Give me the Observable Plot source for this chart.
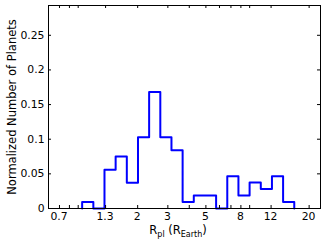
<!DOCTYPE html>
<html>
<head>
<meta charset="utf-8">
<script src="https://cdn.jsdelivr.net/npm/d3@7"></script>
<script src="https://cdn.jsdelivr.net/npm/@observablehq/plot@0.6"></script>
<style>
  html, body { margin: 0; padding: 0; background: #fff; }
  #chart svg { display: block; }
</style>
</head>
<body>
<div id="chart"></div>
<script>
// Histogram bin edges (planet radius, Earth radii) and normalized counts
const binEdges = [0.949, 1.103, 1.281, 1.488, 1.729, 2.009, 2.333, 2.711, 3.149, 3.658,
                  4.250, 4.937, 5.735, 6.663, 7.740, 8.992, 10.45, 12.14, 14.10, 16.38];
const binValues = [0.0093, 0, 0.056, 0.075, 0.037, 0.103, 0.168, 0.103, 0.084, 0.0093,
                   0.0187, 0.0187, 0, 0.0467, 0.0187, 0.0374, 0.028, 0.0467, 0.0093];
const xTickMarks = [0.7, 0.8, 0.9, 1.3, 2, 3, 4, 5, 6, 7, 8, 9, 12, 20];
const xTickLabels = [0.7, 1.3, 2, 3, 5, 8, 12, 20];
const yTicks = [0, 0.05, 0.1, 0.15, 0.2, 0.25];
const yLabel = "Normalized Number of Planets";

const W = 326, H = 244;
const mL = 48, mR = 6, mT = 5, mB = 36;
const plotW = W - mL - mR, plotH = H - mT - mB;
const tl = 3;

// step outline points
const steps = [{x: binEdges[0], y: 0}];
binEdges.forEach((e, i) => steps.push({x: e, y: i < binValues.length ? binValues[i] : 0}));

const fmt = d => String(d);

const chart = Plot.plot({
  width: W, height: H,
  marginLeft: mL, marginRight: mR, marginTop: mT, marginBottom: mB,
  style: {fontFamily: "DejaVu Sans", fontSize: "11px", color: "#000", background: "#fff"},
  x: {type: "log", domain: [0.604, 23.3], axis: null},
  y: {domain: [0, 0.293], axis: null},
  marks: [
    Plot.text(yTicks, {y: d => d, text: fmt, frameAnchor: "left", textAnchor: "end", dx: -4, fontSize: 10.8, fill: "#000"}),
    Plot.text([yLabel], {text: d => d, frameAnchor: "left", textAnchor: "middle", rotate: -90, dx: -36, fontSize: 11.5, fill: "#000"}),
    Plot.line(steps, {x: "x", y: "y", curve: "step-after", stroke: "#0000ff", strokeWidth: 2}),
    Plot.tickX(xTickMarks, {x: d => d, stroke: "#000", strokeWidth: 1, insetTop: plotH - tl}),
    Plot.tickX(xTickMarks, {x: d => d, stroke: "#000", strokeWidth: 1, insetBottom: plotH - tl}),
    Plot.tickY(yTicks, {y: d => d, stroke: "#000", strokeWidth: 1, insetRight: plotW - tl}),
    Plot.tickY(yTicks, {y: d => d, stroke: "#000", strokeWidth: 1, insetLeft: plotW - tl}),
    Plot.frame({stroke: "#000", strokeWidth: 1})
  ]
});

const svg = d3.select(chart);
const xs = chart.scale("x");

// x tick labels: one text element, one tspan per label, placed via Plot's x scale
const xt = svg.append("text")
  .attr("font-family", "DejaVu Sans")
  .attr("font-size", 10.8)
  .attr("fill", "#000")
  .attr("text-anchor", "middle");
xTickLabels.forEach(v => {
  xt.append("tspan")
    .attr("x", xs.apply(v).toFixed(1))
    .attr("y", H - mB + 12)
    .text(fmt(v));
});

// x axis label with subscripts
const t = svg.append("text")
  .attr("x", 178).attr("y", 234)
  .attr("text-anchor", "middle")
  .attr("font-family", "DejaVu Sans")
  .attr("font-size", 11.5)
  .attr("fill", "#000");
t.append("tspan").text("R");
t.append("tspan").attr("font-size", 8).attr("dy", 3).text("pl");
t.append("tspan").attr("dy", -3).text(" (R");
t.append("tspan").attr("font-size", 8).attr("dy", 3).text("Earth");
t.append("tspan").attr("dy", -3).text(")");

document.getElementById("chart").appendChild(chart);
</script>
</body>
</html>
